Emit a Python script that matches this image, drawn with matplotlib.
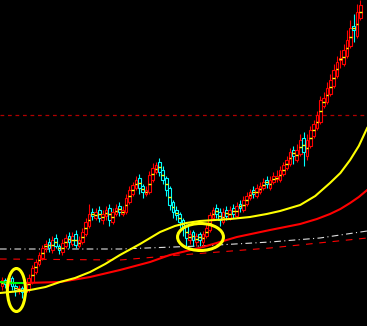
import matplotlib
matplotlib.use('Agg')
import numpy as np
import matplotlib.pyplot as plt
from matplotlib.patches import Rectangle, Ellipse

# candle data (bar index = position)
opens = [40, 46, 42, 48, 40, 36, 38, 34, 37, 44,
         54, 62, 68, 78, 84, 76, 88, 80, 74, 80,
         90, 82, 92, 80, 84, 92, 100, 114, 108, 116,
         106, 110, 118, 104, 112, 120, 112, 114, 124, 132,
         138, 148, 140, 132, 134, 146, 154, 164, 156, 148,
         138, 124, 116, 112, 106, 100, 86, 94, 84, 92,
         84, 90, 96, 108, 118, 114, 104, 116, 108, 118,
         110, 122, 116, 122, 128, 136, 130, 134, 138, 146,
         138, 144, 147, 146, 152, 158, 162, 176, 166, 172,
         188, 170, 180, 190, 198, 204, 220, 224, 232, 240,
         250, 266, 262, 270, 280, 300, 290, 308]
closes = [46, 42, 48, 40, 36, 38, 34, 37, 48, 58,
          64, 71, 78, 82, 78, 86, 80, 76, 83, 88,
          84, 90, 81, 86, 94, 104, 112, 110, 114, 108,
          112, 116, 106, 114, 118, 114, 116, 128, 136, 141,
          146, 138, 134, 136, 151, 158, 161, 154, 146, 136,
          121, 114, 111, 104, 98, 88, 92, 86, 90, 86,
          92, 98, 111, 116, 112, 106, 114, 110, 116, 112,
          120, 118, 126, 130, 134, 132, 138, 140, 144, 142,
          146, 150, 150, 156, 161, 166, 174, 170, 176, 186,
          174, 186, 196, 202, 211, 226, 228, 238, 246, 256,
          264, 268, 276, 286, 298, 296, 314, 321]
highs = [49, 48, 51, 50, 42, 41, 40, 39, 52, 61,
         67, 74, 81, 86, 88, 90, 92, 82, 87, 92,
         94, 94, 96, 90, 98, 108, 122, 118, 118, 120,
         116, 120, 122, 118, 122, 124, 120, 132, 140, 144,
         150, 152, 142, 140, 155, 163, 164, 168, 160, 150,
         140, 126, 120, 114, 108, 102, 96, 96, 93, 94,
         95, 102, 114, 119, 122, 118, 118, 120, 120, 122,
         124, 126, 130, 134, 137, 140, 142, 144, 148, 150,
         150, 154, 156, 160, 164, 170, 178, 180, 182, 192,
         194, 192, 200, 206, 215, 230, 234, 244, 252, 262,
         270, 276, 282, 296, 306, 312, 322, 326]
lows = [36, 38, 40, 36, 30, 32, 28, 30, 34, 42,
        52, 60, 66, 74, 74, 73, 78, 72, 71, 78,
        78, 80, 78, 78, 82, 90, 98, 106, 106, 104,
        102, 106, 100, 102, 110, 110, 110, 112, 122, 130,
        136, 132, 128, 130, 132, 144, 152, 150, 142, 130,
        116, 108, 106, 98, 90, 80, 82, 80, 80, 80,
        80, 88, 94, 106, 108, 100, 102, 106, 106, 108,
        108, 114, 114, 120, 126, 128, 128, 132, 136, 138,
        136, 142, 144, 144, 150, 156, 160, 162, 164, 170,
        160, 166, 178, 188, 196, 202, 218, 222, 230, 238,
        248, 258, 260, 268, 278, 284, 288, 306]

# indicator lines (bar index, value)
yellow_x = [-0.6, 8.4, 13.0, 17.3, 21.8, 26.3, 30.8, 35.2, 41.2, 47.2, 51.6, 55.0,
            59.1, 68.1, 74.0, 79.0, 83.0, 89.0, 93.5, 97.9, 101.0, 103.9, 106.5, 109.0]
yellow_y = [33, 36, 39, 44, 48, 54, 62, 71, 82, 94, 100, 103,
            105, 107, 109, 112, 115, 121, 130, 143, 153, 166, 180, 198]
red_x = [6.9, 17.3, 26.3, 35.2, 44.2, 50.1, 60.0, 70.1, 80.0, 89.0, 94.0, 97.9, 101.0, 103.9, 106.5, 109.0]
red_y = [43, 44, 49, 56, 64, 71, 79, 89, 96, 102, 107, 112, 117, 123, 129, 136]
green_x = [-0.6, 3.0, 6.9]
green_y = [44, 43, 43]
white_x = [-0.6, 35.2, 59.1, 80.0, 94.9, 109.0]
white_y = [77, 77, 80, 84, 88, 95]
reddash_x = [-0.6, 35.2, 53.1, 80.0, 109.0]
reddash_y = [67, 66, 71, 78, 88]
level = 211

fig = plt.figure(figsize=(3.67, 3.26), dpi=100, facecolor='black')
ax = fig.add_axes([0, 0, 1, 1])
ax.set_facecolor('black')

ax.axhline(level, color='#b00000', lw=0.9, ls=(0, (3, 3)), zorder=1)
ax.plot(white_x, white_y, color='#e0e0e0', lw=0.8, ls=(0, (6, 3, 1, 3)), zorder=2)
ax.plot(reddash_x, reddash_y, color='#ff0000', lw=0.8, ls=(0, (6, 6)), zorder=2)

w = 0.8
for i in range(len(closes)):
    o, c = opens[i], closes[i]
    col = '#ff0000' if c >= o else '#00ffff'
    ax.vlines(i, lows[i], highs[i], color=col, lw=0.8, zorder=3)
    lo = min(o, c)
    ax.add_patch(Rectangle((i - w / 2, lo), w, abs(c - o), facecolor='black',
                           edgecolor=col, lw=0.8, zorder=4))
    ax.hlines((o + c) / 2, i - w / 2, i + w / 2, color='#ffff00', lw=1.0, zorder=5)

ax.plot(green_x, green_y, color='#00ff00', lw=1.5, zorder=6)
ax.plot(red_x, red_y, color='#ff0000', lw=1.5, zorder=6)
ax.plot(yellow_x, yellow_y, color='#ffff00', lw=1.5, zorder=6)

ax.add_patch(Ellipse((4.3, 36), 5.4, 43, fill=False, edgecolor='#ffff00', lw=2.2, zorder=7))
ax.add_patch(Ellipse((59.25, 89), 13.7, 27, fill=False, edgecolor='#ffff00', lw=2.2, zorder=7))

ax.set_xlim(-0.6, 108.95)
ax.set_ylim(0, 326)
ax.axis('off')

plt.savefig('out.png', dpi=100, facecolor='black')
